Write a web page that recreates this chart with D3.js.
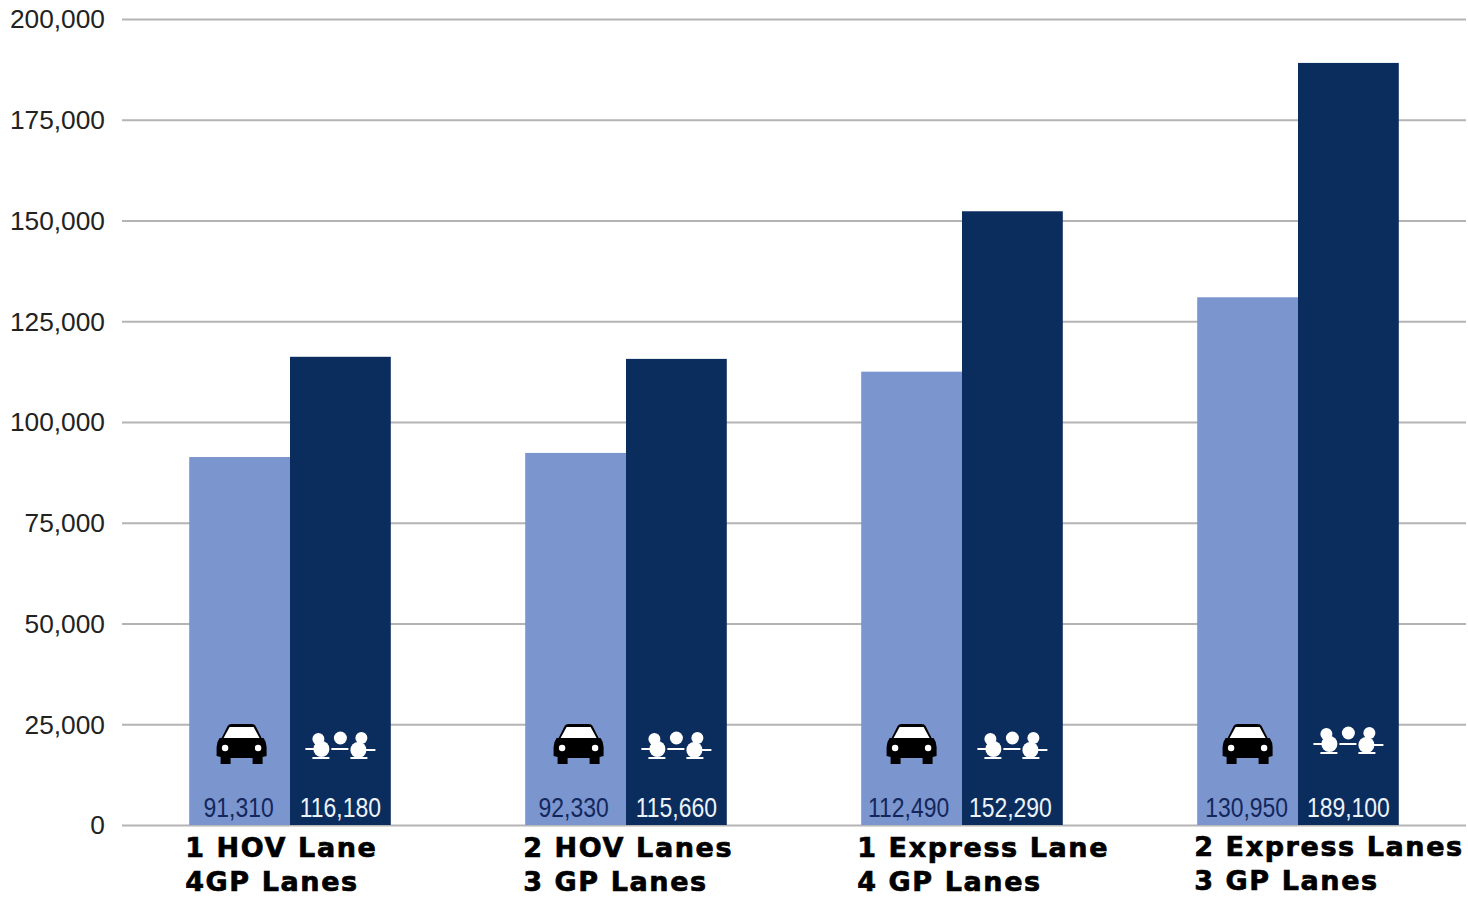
<!DOCTYPE html>
<html>
<head>
<meta charset="utf-8">
<script src="https://cdn.jsdelivr.net/npm/d3@7/dist/d3.min.js"></script>
<style>
  html, body { margin: 0; padding: 0; background: #fff; }
  svg { display: block; }
  .tick-label { font-family: "Liberation Sans", Arial, sans-serif; font-size: 26.3px; fill: #222; }
  .value-label { font-family: "Liberation Sans", Arial, sans-serif; font-size: 28px; }
  .cat-label { font-family: "DejaVu Sans", sans-serif; font-weight: 700; font-size: 27px; fill: #000; stroke: #000; stroke-width: 0.7px; letter-spacing: 1.6px; }
</style>
</head>
<body>
<svg id="chart" width="1468" height="897"></svg>
<script>
// Weekly person and vehicle throughput for each lane configuration
const configurations = ["1 HOV Lane|4GP Lanes", "2 HOV Lanes|3 GP Lanes", "1 Express Lane|4 GP Lanes", "2 Express Lanes|3 GP Lanes"];
const vehicles = [91310, 92330, 112490, 130950];
const people = [116180, 115660, 152290, 189100];
const axisTicks = [0, 25000, 50000, 75000, 100000, 125000, 150000, 175000, 200000];

const colors = { vehicles: "#7b96cf", people: "#0a2d5e", grid: "#b4b4b4" };

// Hand placement of the annotations inside each group, in pixels
const captionNudge = [[-4, 0], [-2, 0], [-4, 0], [-3, -1]];
const carNudge = [2, 3, 0, 0];
const riderNudge = [[0, 0], [0, 0], [0, 0], [0, -5]];
const vehicleLabelNudge = [-1, -2, -3, -1];
const peopleLabelNudge = [0, 0, -2, 0];

const svg = d3.select("#chart");
const margin = { left: 122, right: 1466, top: 19, bottom: 825 };

const y = d3.scaleLinear().domain([0, 200000]).range([margin.bottom, margin.top]);
const x0 = d3.scaleBand().domain(configurations).range([margin.left, margin.right]).paddingInner(0.4).paddingOuter(0.2);
const x1 = d3.scaleBand().domain(["vehicles", "people"]).range([0, x0.bandwidth()]);

// Horizontal gridlines and value axis labels
const axis = d3.axisLeft(y).tickValues(axisTicks).tickFormat(d3.format(",")).tickSize(margin.left - margin.right).tickPadding(17);
const axisG = svg.append("g").attr("transform", `translate(${margin.left},0)`).call(axis);
axisG.select(".domain").remove();
axisG.selectAll(".tick line").attr("stroke", colors.grid).attr("stroke-width", 2);
axisG.selectAll(".tick text").attr("class", "tick-label").attr("fill", null).attr("dy", "0.34em");

// Icons, defined around their own centre
const defs = svg.append("defs");
const car = defs.append("g").attr("id", "car-icon");
car.append("path").attr("fill", "#000")
  .attr("d", "M-20,-7 L-14,-19 Q-13,-21 -10,-21 L10,-21 Q13,-21 14,-19 L20,-7 L22,-7 Q25,-3 25,2 L25,11 L21,12 L21,19 L11,19 L11,13 L-11,13 L-11,19 L-21,19 L-21,12 L-25,11 L-25,2 Q-25,-3 -22,-7 Z");
car.append("path").attr("fill", "#fff").attr("d", "M-18,-7 L-12,-18 L12,-18 L18,-7 Z");
car.selectAll("circle").data([-16.5, 16.5]).join("circle")
  .attr("cx", d => d).attr("cy", 3).attr("r", 3.2).attr("fill", "#fff");

const riders = defs.append("g").attr("id", "people-icon").attr("fill", "#fff");
[[-19, 4, 8], [-22, -6, 6], [0, -7, 6.5], [18, 5, 8], [21, -7, 6]].forEach(([cx, cy, r]) => {
  riders.append("circle").attr("cx", cx).attr("cy", cy).attr("r", r);
});
riders.append("path").attr("stroke", "#fff").attr("stroke-width", 2).attr("fill", "none")
  .attr("d", "M-35,4 L-26,4 M-9,4 L8,4 M25,5 L35,5 M-28,13 L-11,13 M10,13 L27,13");

const groups = svg.append("g").selectAll("g").data(configurations).join("g")
  .attr("transform", d => `translate(${x0(d)},0)`);

const seriesOf = (d, i) => [
  { key: "vehicles", value: vehicles[i], group: i },
  { key: "people", value: people[i], group: i }
];

// One pair of bars per lane configuration
const bars = groups.selectAll("g").data(seriesOf).join("g");
bars.append("rect")
  .attr("x", d => x1(d.key))
  .attr("y", d => y(d.value))
  .attr("width", x1.bandwidth())
  .attr("height", d => y(0) - y(d.value))
  .attr("fill", d => colors[d.key]);

bars.append("use")
  .attr("href", d => d.key === "vehicles" ? "#car-icon" : "#people-icon")
  .attr("x", d => x1(d.key) + x1.bandwidth() / 2 + (d.key === "vehicles" ? carNudge[d.group] : riderNudge[d.group][0]))
  .attr("y", d => 745 + (d.key === "vehicles" ? 0 : riderNudge[d.group][1]));

// Condensed value labels at the foot of each bar
bars.append("text")
  .attr("class", "value-label")
  .attr("text-anchor", "middle")
  .attr("transform", d => {
    const nudge = d.key === "vehicles" ? vehicleLabelNudge[d.group] : peopleLabelNudge[d.group];
    return `translate(${x1(d.key) + x1.bandwidth() / 2 + nudge},817) scale(0.82,1)`;
  })
  .attr("fill", d => d.key === "vehicles" ? "#14275c" : "#eef3fa")
  .text(d => d3.format(",")(d.value));

// Two-line category captions below the baseline
const captions = groups.append("text").attr("class", "cat-label")
  .attr("y", (d, i) => 857 + captionNudge[i][1]);
captions.each(function (d, i) {
  d3.select(this).selectAll("tspan").data(d.split("|")).join("tspan")
    .attr("x", captionNudge[i][0])
    .attr("dy", (t, j) => j === 0 ? 0 : 34)
    .text(t => t);
});
</script>
</body>
</html>
